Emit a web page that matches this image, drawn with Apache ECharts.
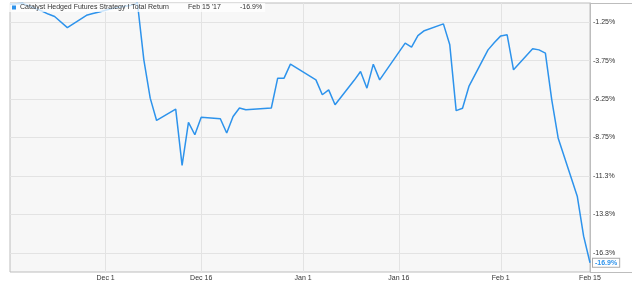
<!DOCTYPE html>
<html>
<head>
<meta charset="utf-8">
<script src="https://cdn.jsdelivr.net/npm/echarts@6/dist/echarts.min.js"></script>
<style>
html,body{margin:0;padding:0;background:#fff;}
#chart{width:640px;height:286px;}
</style>
</head>
<body>
<div id="chart"></div>
<script>
var seriesName = 'Catalyst Hedged Futures Strategy I Total Return';
var legendDate = "Feb 15 '17";
var legendValue = '-16.9%';

var dates = ['2016-11-16','2016-11-17','2016-11-18','2016-11-21','2016-11-22','2016-11-23','2016-11-25','2016-11-28','2016-11-29','2016-11-30',
  '2016-12-01','2016-12-02','2016-12-05','2016-12-06','2016-12-07','2016-12-08','2016-12-09','2016-12-12','2016-12-13','2016-12-14','2016-12-15','2016-12-16',
  '2016-12-19','2016-12-20','2016-12-21','2016-12-22','2016-12-23','2016-12-27','2016-12-28','2016-12-29','2016-12-30',
  '2017-01-03','2017-01-04','2017-01-05','2017-01-06','2017-01-09','2017-01-10','2017-01-11','2017-01-12','2017-01-13',
  '2017-01-17','2017-01-18','2017-01-19','2017-01-20','2017-01-23','2017-01-24','2017-01-25','2017-01-26','2017-01-27','2017-01-30','2017-01-31',
  '2017-02-01','2017-02-02','2017-02-03','2017-02-06','2017-02-07','2017-02-08','2017-02-09','2017-02-10','2017-02-13','2017-02-14','2017-02-15'];

var values = [-0.08,-0.05,-0.03,-0.52,-0.72,-0.88,-1.60,-0.80,-0.68,-0.58,
  -0.47,-0.36,-0.14,-0.02,-3.70,-6.19,-7.64,-6.90,-10.56,-7.77,-8.57,-7.44,
  -7.53,-8.46,-7.38,-6.83,-6.94,-6.83,-4.89,-4.89,-3.98,
  -5.00,-5.97,-5.65,-6.62,-5.03,-4.46,-5.54,-3.98,-5.00,
  -2.61,-2.87,-2.12,-1.80,-1.36,-2.72,-7.00,-6.85,-5.43,-3.05,-2.57,
  -2.14,-2.07,-4.35,-2.98,-3.05,-3.26,-6.30,-8.78,-12.57,-15.17,-16.90];

var xTickDates = ['2016-12-01','2016-12-16','2017-01-01','2017-01-16','2017-02-01','2017-02-15'];
var xTickLabels = ['Dec 1','Dec 16','Jan 1','Jan 16','Feb 1','Feb 15'];
var xMinDate = '2016-11-16';
var xMaxDate = '2017-02-15';

var yTickValues = [-16.25,-13.75,-11.25,-8.75,-6.25,-3.75,-1.25];
var yTickLabels = ['-16.3%','-13.8%','-11.3%','-8.75%','-6.25%','-3.75%','-1.25%'];
var yMin = -17.5, yMax = 0;

function ts(s){ var p = s.split('-'); return Date.UTC(+p[0], +p[1]-1, +p[2]); }

var xTickTs = xTickDates.map(ts);
var seriesData = dates.map(function(d,i){ return [ts(d), values[i]]; });

var blue = '#2d93ec';
var chart = echarts.init(document.getElementById('chart'), null, {renderer:'canvas'});
chart.setOption({
  animation: false,
  backgroundColor: '#fff',
  textStyle: {fontFamily: 'Liberation Sans, Arial, sans-serif'},
  grid: {
    left: 10, right: 50, top: 3, bottom: 14,
    show: true, backgroundColor: '#f7f7f7', borderColor: '#bdbdbd', borderWidth: 1
  },
  legend: {
    show: true, left: 9, top: 3, padding: [1, 3],
    icon: 'rect', itemWidth: 4, itemHeight: 4, itemGap: 0,
    backgroundColor: 'rgba(255,255,255,0.75)',
    selectedMode: false,
    data: [seriesName],
    formatter: function(name){ return '{n|' + name + '}{d|' + legendDate + '}{v|' + legendValue + '}'; },
    textStyle: {
      fontSize: 7, color: '#333', padding: [0,0,0,-1],
      rich: {
        n: {fontSize: 7, color: '#333', width: 168},
        d: {fontSize: 7, color: '#333', width: 52},
        v: {fontSize: 7, color: '#333', width: 40}
      }
    }
  },
  xAxis: {
    type: 'value',
    min: ts(xMinDate), max: ts(xMaxDate),
    axisLine: {show: false},
    axisTick: {show: false, customValues: xTickTs},
    splitLine: {show: true, lineStyle: {color: '#e3e3e3', width: 1}},
    axisLabel: {
      customValues: xTickTs,
      margin: 3, fontSize: 7, color: '#333',
      formatter: function(v){ var i = xTickTs.indexOf(v); return i >= 0 ? xTickLabels[i] : ''; }
    }
  },
  yAxis: {
    type: 'value', position: 'right',
    min: yMin, max: yMax,
    axisLine: {show: true, lineStyle: {color: '#bdbdbd'}},
    axisTick: {show: false, customValues: yTickValues},
    splitLine: {show: true, lineStyle: {color: '#e3e3e3', width: 1}},
    axisLabel: {
      customValues: yTickValues,
      margin: 3, fontSize: 7, color: '#333',
      formatter: function(v){
        for (var i = 0; i < yTickValues.length; i++) { if (Math.abs(yTickValues[i]-v) < 1e-6) return yTickLabels[i]; }
        return '';
      }
    }
  },
  graphic: [
    {type:'line', shape:{x1:590, y1:3.5, x2:632, y2:3.5}, style:{stroke:'#bdbdbd', lineWidth:1}, z: 10},
    {type:'line', shape:{x1:590, y1:272.5, x2:632, y2:272.5}, style:{stroke:'#bdbdbd', lineWidth:1}, z: 10}
  ],
  series: [{
    name: seriesName,
    type: 'line',
    data: seriesData,
    showSymbol: false,
    symbol: 'none',
    color: blue,
    lineStyle: {color: blue, width: 1.5},
    clip: false,
    endLabel: {
      show: true,
      distance: 3,
      formatter: function(p){ return p.value[1].toFixed(1) + '%'; },
      color: blue, fontSize: 7, fontWeight: 'bold',
      backgroundColor: '#fff', borderColor: '#aaa', borderWidth: 1,
      padding: [1, 2, 0, 2]
    }
  }]
});
</script>
</body>
</html>
